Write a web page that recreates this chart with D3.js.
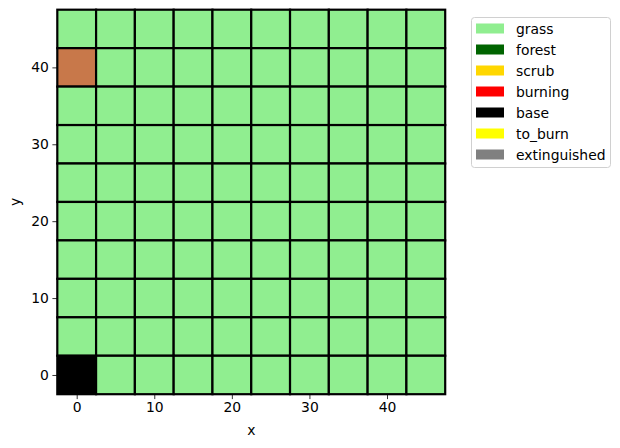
<!DOCTYPE html>
<html>
<head>
<meta charset="utf-8">
<script src="https://cdn.jsdelivr.net/npm/d3@7"></script>
<style>
  body { margin: 0; background: #fff; }
  svg { font-family: "DejaVu Sans", sans-serif; }
</style>
</head>
<body>
<svg id="chart" width="620" height="448"></svg>
<script>
// cell centres along each axis
const xValues = [0, 5, 10, 15, 20, 25, 30, 35, 40, 45];
const yValues = [0, 5, 10, 15, 20, 25, 30, 35, 40, 45];

// cell states, first row is y = 45, last row is y = 0
const cellRows = [
  ["grass","grass","grass","grass","grass","grass","grass","grass","grass","grass"],
  ["ember","grass","grass","grass","grass","grass","grass","grass","grass","grass"],
  ["grass","grass","grass","grass","grass","grass","grass","grass","grass","grass"],
  ["grass","grass","grass","grass","grass","grass","grass","grass","grass","grass"],
  ["grass","grass","grass","grass","grass","grass","grass","grass","grass","grass"],
  ["grass","grass","grass","grass","grass","grass","grass","grass","grass","grass"],
  ["grass","grass","grass","grass","grass","grass","grass","grass","grass","grass"],
  ["grass","grass","grass","grass","grass","grass","grass","grass","grass","grass"],
  ["grass","grass","grass","grass","grass","grass","grass","grass","grass","grass"],
  ["base","grass","grass","grass","grass","grass","grass","grass","grass","grass"]
];

const legendLabels = ["grass", "forest", "scrub", "burning", "base", "to_burn", "extinguished"];
const legendColors = ["#90ee90", "#006400", "#ffd700", "#ff0000", "#000000", "#ffff00", "#808080"];
const xTicks = [0, 10, 20, 30, 40];
const yTicks = [0, 10, 20, 30, 40];

const stateColor = {};
legendLabels.forEach((l, i) => stateColor[l] = legendColors[i]);
stateColor["ember"] = "#c8784a";

const cellSize = 5;
const svg = d3.select("#chart");
const margin = {left: 57.3, top: 9.7, right: 445.2, bottom: 394.2};

const x = d3.scaleLinear()
  .domain([-2.5, 47.5])
  .range([margin.left, margin.right]);

const y = d3.scaleLinear()
  .domain([-2.5, 47.5])
  .range([margin.bottom, margin.top]);

// flatten rows into cells
const cells = [];
cellRows.forEach((row, r) => {
  row.forEach((state, c) => {
    cells.push({x: xValues[c], y: yValues[yValues.length - 1 - r], state: state});
  });
});

svg.append("g")
  .selectAll("rect")
  .data(cells)
  .join("rect")
  .attr("x", d => x(d.x - cellSize / 2))
  .attr("y", d => y(d.y + cellSize / 2))
  .attr("width", d => x(d.x + cellSize / 2) - x(d.x - cellSize / 2))
  .attr("height", d => y(d.y - cellSize / 2) - y(d.y + cellSize / 2))
  .attr("fill", d => stateColor[d.state])
  .attr("stroke", "#000")
  .attr("stroke-width", 2.2);

// axes
const xAxis = svg.append("g")
  .attr("transform", `translate(0,${margin.bottom})`)
  .call(d3.axisBottom(x).tickValues(xTicks).tickSize(4.9).tickPadding(3.5));

const yAxis = svg.append("g")
  .attr("transform", `translate(${margin.left},0)`)
  .call(d3.axisLeft(y).tickValues(yTicks).tickSize(4.9).tickPadding(3.5));

[xAxis, yAxis].forEach(a => {
  a.select(".domain").remove();
  a.selectAll(".tick line").attr("stroke", "#000").attr("stroke-width", 0.8);
  a.selectAll(".tick text").attr("fill", "#000").style("font-size", "13.9px")
    .style("font-family", "DejaVu Sans");
});

svg.append("text")
  .attr("x", (margin.left + margin.right) / 2)
  .attr("y", 435)
  .attr("text-anchor", "middle")
  .style("font-size", "13.9px")
  .text("x");

svg.append("text")
  .attr("transform", `translate(20,${(margin.top + margin.bottom) / 2}) rotate(-90)`)
  .attr("text-anchor", "middle")
  .style("font-size", "13.9px")
  .text("y");

// legend
const legend = svg.append("g").attr("transform", "translate(471.5,17.5)");
legend.append("rect")
  .attr("width", 139)
  .attr("height", 150)
  .attr("rx", 3)
  .attr("fill", "#fff")
  .attr("stroke", "#d0d0d0")
  .attr("stroke-width", 1);

const items = legend.selectAll(".item")
  .data(legendLabels)
  .join("g")
  .attr("class", "item")
  .attr("transform", (d, i) => `translate(0,${i * 21})`);

items.append("rect")
  .attr("x", 4.5)
  .attr("y", 6)
  .attr("width", 28)
  .attr("height", 10)
  .attr("fill", (d, i) => legendColors[i]);

items.append("text")
  .attr("x", 44.5)
  .attr("y", 16)
  .style("font-size", "13.9px")
  .text(d => d);
</script>
</body>
</html>
